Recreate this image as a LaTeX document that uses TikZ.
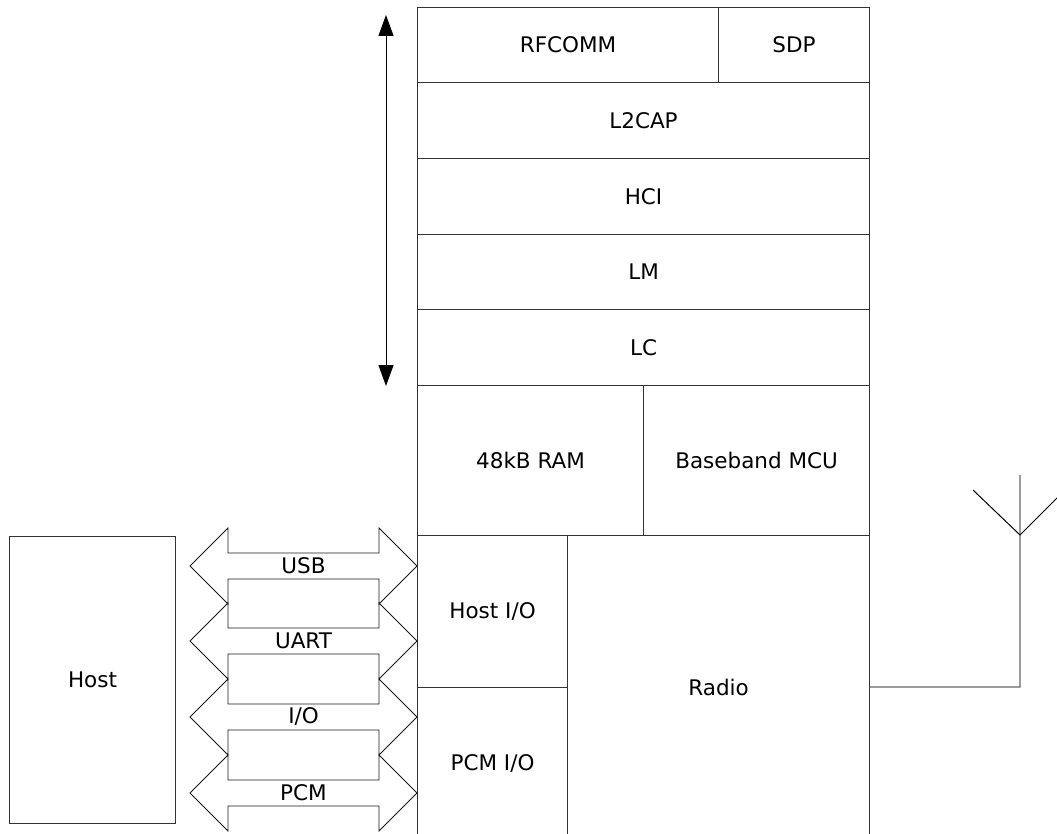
\documentclass[tikz,border=0pt]{standalone}
\usepackage{fontspec}
\setmainfont{DejaVu Sans}
\usetikzlibrary{arrows.meta}
\tikzset{
  layer/.style={draw=black!80, line width=1.1pt, anchor=north west, inner sep=0pt},
  bus/.style={draw=black!90, line width=0.9pt},
}

\begin{document}
\begin{tikzpicture}[x=1pt,y=-1pt,font=\fontsize{21.5}{26}\selectfont]
            \useasboundingbox (0,0) rectangle (1057,834);
            \clip (0,0) rectangle (1057,834);

            % protocol stack
            \node[layer, minimum width=301, minimum height=75] (rfcomm) at (417,7) {RFCOMM};
            \node[layer, minimum width=151, minimum height=75] (sdp) at (718,7) {SDP};
            \node[layer, minimum width=452, minimum height=76] (l2cap) at (417,82) {L2CAP};
            \node[layer, minimum width=452, minimum height=76] (hci) at (417,158) {HCI};
            \node[layer, minimum width=452, minimum height=75] (lm) at (417,234) {LM};
            \node[layer, minimum width=452, minimum height=76] (lc) at (417,309) {LC};
            \node[layer, minimum width=226, minimum height=150] (ram) at (417,385) {48kB RAM};
            \node[layer, minimum width=226, minimum height=150] (mcu) at (643,385) {Baseband MCU};
            \node[layer, minimum width=150, minimum height=152] (hostio) at (417,535) {Host I/O};
            \node[layer, minimum width=150, minimum height=151] (pcmio) at (417,687) {PCM I/O};
            \node[layer, minimum width=302, minimum height=303] (radio) at (567,535) {Radio};

            \node[layer, minimum width=166, minimum height=287] (host) at (9,536) {Host};

            % software span
            \coordinate (spantop) at (386,15);
            \coordinate (spanbot) at (386,386);
            \draw[line width=1pt, {Triangle[length=21pt,width=15pt]}-{Triangle[length=21pt,width=15pt]}] (spantop) -- (spanbot);

            % host buses
            \foreach \c/\txt [count=\i] in {566/USB, 641/UART, 717/{I/O}, 793/PCM} {
                \draw[bus] (190,\c) -- (228,\c-38) -- (228,\c-13) -- (379,\c-13) -- (379,\c-38)
                    -- (417,\c) -- (379,\c+38) -- (379,\c+13) -- (228,\c+13) -- (228,\c+38) -- cycle;
                \node (bus\i) at (303.5,\c) {\txt};
            }

            % antenna
            \coordinate (feed) at (1020,687);
            \coordinate (base) at (1020,535);
            \coordinate (mast) at (1020,475);
            \draw[black!60, line width=1.3pt] (radio.east) -- (feed) -- (mast);
            \draw[line width=1pt] (973,490) -- (base) -- (1065,490);
        \end{tikzpicture}
\end{document}
